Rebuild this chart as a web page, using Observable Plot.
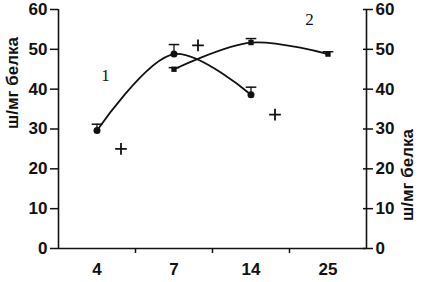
<!DOCTYPE html>
<html><head><meta charset="utf-8">
<script src="https://cdn.jsdelivr.net/npm/d3@7"></script>
<script src="https://cdn.jsdelivr.net/npm/@observablehq/plot@0.6"></script>
<style>body{margin:0;background:#fff}svg{display:block}</style>
</head><body><div id="chart"></div>
<script>
const days = ["4", "7", "14", "25"];
const series1 = [29.6, 48.8, 38.6, null];
const series1Top = [31.2, 51.2, 40.5, null];
const series2 = [null, 45.0, 51.7, 48.8];
const series2Top = [null, 45.4, 52.7, 49.4];
const series3 = [25.0, 51.0, 33.6, null];
const yTicks = [0, 10, 20, 30, 40, 50, 60];
const yLabel = "ш/мг белка";
const curveLabels = [{t: "1", x: 0.61, y: 43.5}, {t: "2", x: 3.26, y: 57.5}];

const rows = (vals, tops) => days.map((d, i) => ({i: i + 0.5, v: vals[i], top: tops ? tops[i] : null})).filter(r => r.v != null);
const d1 = rows(series1, series1Top);
const d2 = rows(series2, series2Top);
const d3s = rows(series3);

const capSymbol = {draw(ctx, size) { const r = Math.sqrt(size) * 0.6; ctx.moveTo(-r, 0); ctx.lineTo(r, 0); }};
const plusSymbol = {draw(ctx, size) { const r = Math.sqrt(size) * 0.55; ctx.moveTo(-r, 0); ctx.lineTo(r, 0); ctx.moveTo(0, -r); ctx.lineTo(0, r); }};
const font = "Liberation Sans, Arial, sans-serif";

const chart = Plot.plot({
  width: 423, height: 282,
  marginLeft: 58, marginRight: 57, marginTop: 9, marginBottom: 34,
  style: {fontFamily: font, fontSize: "17px", fontWeight: "bold", color: "#111", background: "#fff"},
  x: {type: "linear", domain: [0, days.length], axis: null},
  y: {domain: [0, 60], axis: null},
  marks: [
    Plot.axisY({anchor: "left", ticks: yTicks, tickSize: 8, tickPadding: 3, label: null, strokeWidth: 1.5}),
    Plot.axisY({anchor: "right", ticks: yTicks, tickSize: 10, dx: -4, tickPadding: 3, label: null, strokeWidth: 1.5}),
    Plot.axisX({ticks: [1, 2, 3], tickSize: 5, tickFormat: () => "", label: null, strokeWidth: 1.5}),
    Plot.axisX({ticks: days.map((d, i) => i + 0.5), tickSize: 0, tickPadding: 14, tickFormat: (t) => days[Math.floor(t)], label: null}),
    Plot.ruleX([0, days.length], {strokeWidth: 1.6}),
    Plot.ruleY([0], {strokeWidth: 1.6}),
    Plot.text([yLabel], {frameAnchor: "left", rotate: -90, dx: -46, fontSize: 17, fontWeight: "bold"}),
    Plot.text([yLabel], {frameAnchor: "right", rotate: -90, dx: 41, fontSize: 17, fontWeight: "bold"}),
    Plot.line(d1, {x: "i", y: "v", curve: "catmull-rom", strokeWidth: 1.8}),
    Plot.line(d2, {x: "i", y: "v", curve: "catmull-rom", strokeWidth: 1.8}),
    Plot.ruleX(d1, {x: "i", y1: "v", y2: "top", strokeWidth: 1.3}),
    Plot.ruleX(d2, {x: "i", y1: "v", y2: "top", strokeWidth: 1.3}),
    Plot.dot(d1, {x: "i", y: "top", symbol: capSymbol, r: 5, stroke: "#111", strokeWidth: 1.5}),
    Plot.dot(d2, {x: "i", y: "top", symbol: capSymbol, r: 5, stroke: "#111", strokeWidth: 1.5}),
    Plot.dot(d1, {x: "i", y: "v", r: 3.5, fill: "#111", stroke: null}),
    Plot.dot(d2, {x: "i", y: "v", symbol: "square", r: 3, fill: "#111", stroke: null}),
    Plot.dot(d3s, {x: "i", y: "v", dx: 24, symbol: plusSymbol, r: 6, stroke: "#111", strokeWidth: 1.8}),
    Plot.text(curveLabels, {x: "x", y: "y", text: "t", fontFamily: "Liberation Serif, serif", fontWeight: "normal", fontSize: 17})
  ]
});
document.getElementById("chart").append(chart);
</script></body></html>
